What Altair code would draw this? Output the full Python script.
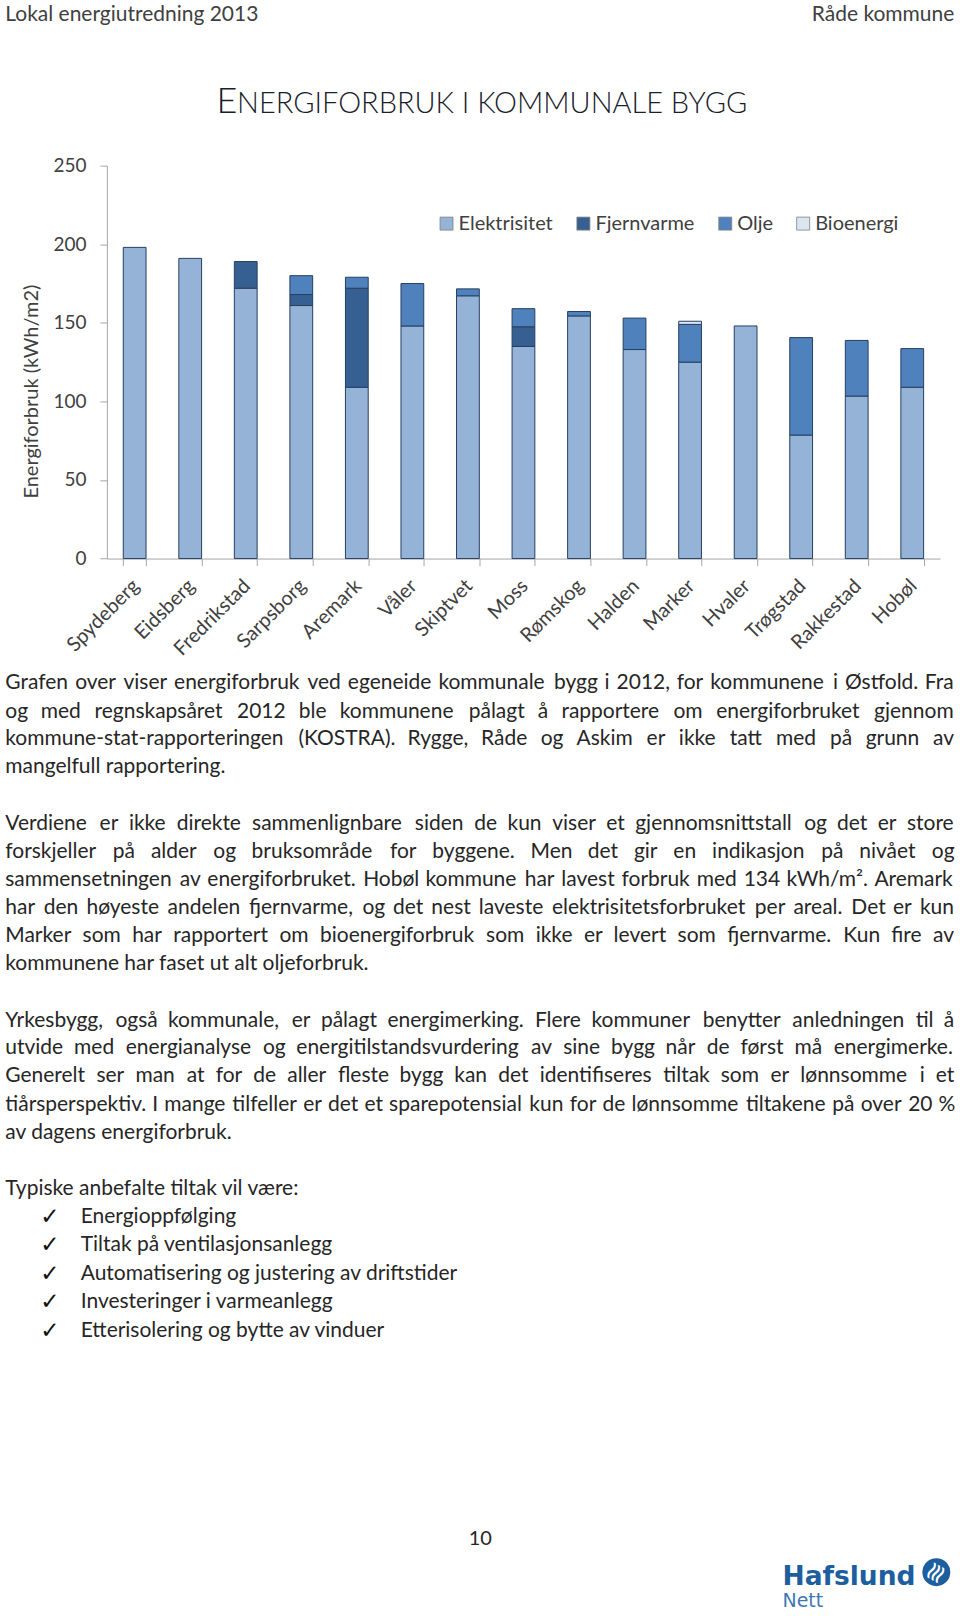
import altair as alt
import pandas as pd

# ---------------- data ----------------
kommuner = ["Spydeberg", "Eidsberg", "Fredrikstad", "Sarpsborg", "Aremark", "Våler", "Skiptvet",
            "Moss", "Rømskog", "Halden", "Marker", "Hvaler", "Trøgstad", "Rakkestad", "Hobøl"]
elektrisitet = [198, 191, 172, 161, 109, 148, 167.2, 135, 154.4, 133, 125, 148, 78.6, 103.4, 109]
fjernvarme = [0, 0, 17, 7, 63, 0, 0, 12.5, 0, 0, 0, 0, 0, 0, 0]
olje = [0, 0, 0, 12, 7, 27, 4.4, 11.5, 2.8, 20, 24, 0, 62, 35.4, 24.6]
bioenergi = [0, 0, 0, 0, 0, 0, 0, 0, 0, 0, 2, 0, 0, 0, 0]
kilder = ["Elektrisitet", "Fjernvarme", "Olje", "Bioenergi"]
farger = ["#95B3D7", "#376092", "#4F81BD", "#DCE6F2"]
y_ticks = [0, 50, 100, 150, 200, 250]

header_left = "Lokal energiutredning 2013"
header_right = "Råde kommune"
title_first = "E"
title_rest = "NERGIFORBRUK I KOMMUNALE BYGG"
y_title = "Energiforbruk (kWh/m2)"

# (text, justified)
body_lines = [
    ("Grafen over viser energiforbruk ved egeneide kommunale bygg i 2012, for kommunene i Østfold. Fra", True),
    ("og med regnskapsåret 2012 ble kommunene pålagt å rapportere om energiforbruket gjennom", True),
    ("kommune-stat-rapporteringen (KOSTRA). Rygge, Råde og Askim er ikke tatt med på grunn av", True),
    ("mangelfull rapportering.", False),
    ("Verdiene er ikke direkte sammenlignbare siden de kun viser et gjennomsnittstall og det er store", True),
    ("forskjeller på alder og bruksområde for byggene. Men det gir en indikasjon på nivået og", True),
    ("sammensetningen av energiforbruket. Hobøl kommune har lavest forbruk med 134 kWh/m². Aremark", True),
    ("har den høyeste andelen fjernvarme, og det nest laveste elektrisitetsforbruket per areal. Det er kun", True),
    ("Marker som har rapportert om bioenergiforbruk som ikke er levert som fjernvarme. Kun fire av", True),
    ("kommunene har faset ut alt oljeforbruk.", False),
    ("Yrkesbygg, også kommunale, er pålagt energimerking. Flere kommuner benytter anledningen til å", True),
    ("utvide med energianalyse og energitilstandsvurdering av sine bygg når de først må energimerke.", True),
    ("Generelt ser man at for de aller fleste bygg kan det identifiseres tiltak som er lønnsomme i et", True),
    ("tiårsperspektiv. I mange tilfeller er det et sparepotensial kun for de lønnsomme tiltakene på over 20 %", True),
    ("av dagens energiforbruk.", False),
    ("Typiske anbefalte tiltak vil være:", False),
]
body_y = [682.6, 711.5, 739.4, 767.2,
          823.9, 851.7, 879.6, 908.4, 936.3, 964.1,
          1020.8, 1048.7, 1076.5, 1105.4, 1133.2,
          1189.9]
bullets = ["Energioppfølging", "Tiltak på ventilasjonsanlegg", "Automatisering og justering av driftstider",
           "Investeringer i varmeanlegg", "Etterisolering og bytte av vinduer"]
bullet_y = [1217.8, 1245.6, 1274.5, 1302.3, 1331.2]
page_number = "10"

# ---------------- layout (page pixels) ----------------
PX0, PY0 = 106.7, 165.0          # plot-area origin on the page
PW, PH = 834, 393.3               # plot-area size
BODY_FS = 21
LEFT, RIGHT = 5.0, 955.0
MIN_GAP = 6.0

LATO = {
    'a': .506, 'b': .566, 'c': .466, 'd': .566, 'e': .527, 'f': .328, 'g': .505, 'h': .566, 'i': .244,
    'j': .244, 'k': .507, 'l': .244, 'm': .850, 'n': .566, 'o': .566, 'p': .556, 'q': .566, 'r': .375,
    's': .433, 't': .355, 'u': .566, 'v': .507, 'w': .778, 'x': .492, 'y': .507, 'z': .464, ' ': .193,
    '.': .22, ',': .22, ':': .22, '-': .33, '(': .3, ')': .3, '%': .75, 'ø': .566, 'å': .506, 'æ': .82,
    'A': .67, 'B': .63, 'C': .65, 'D': .72, 'E': .55, 'F': .53, 'G': .7, 'H': .73, 'I': .28, 'K': .64,
    'L': .5, 'M': .88, 'N': .73, 'O': .76, 'R': .61, 'S': .5, 'T': .56, 'V': .67, 'Y': .61, 'Ø': .76,
    'W': .98, '/': .37, '²': .40,
}


def tw(s, fs):
    return sum(LATO.get(c, 0.58) for c in s) * fs


word_rows = []
for (line, just), yy in zip(body_lines, body_y):
    words = line.split(" ")
    if just and len(words) > 1:
        fs = BODY_FS
        total = sum(tw(w, fs) for w in words)
        if total + MIN_GAP * (len(words) - 1) > RIGHT - LEFT:
            fs = BODY_FS * (RIGHT - LEFT - MIN_GAP * (len(words) - 1)) / total
            total = sum(tw(w, fs) for w in words)
        gap = (RIGHT - LEFT - total) / (len(words) - 1)
        x = LEFT
        for k, w in enumerate(words):
            if k == len(words) - 1:
                x = RIGHT - tw(w, fs)
            word_rows.append({"x": x - PX0, "y": yy - PY0, "t": w, "fs": fs})
            x += tw(w, fs) + gap
    else:
        word_rows.append({"x": LEFT - PX0, "y": yy - PY0, "t": line, "fs": BODY_FS})
for b, yy in zip(bullets, bullet_y):
    word_rows.append({"x": 80.5 - PX0, "y": yy - PY0, "t": b, "fs": BODY_FS})
words_df = pd.DataFrame(word_rows)

# ---------------- bar chart ----------------
rows = []
for i, k in enumerate(kommuner):
    for j, vals in enumerate([elektrisitet, fjernvarme, olje, bioenergi]):
        rows.append({"kommune": k, "kilde": kilder[j], "verdi": vals[i], "rekkefolge": j})
df = pd.DataFrame(rows)

bars = alt.Chart(df).transform_filter("datum.verdi > 0").mark_bar(
    stroke="#243F60", strokeWidth=1
).encode(
    x=alt.X("kommune:N", sort=kommuner,
            scale=alt.Scale(paddingInner=0.59, paddingOuter=0.295),
            axis=alt.Axis(title=None, labelAngle=-45, labelAlign="right", labelBaseline="middle",
                          labelPadding=17, labelOffset=1, tickSize=7, tickBand="extent",
                          labelFontSize=20, labelColor="#404040", labelFont="Lato",
                          domainColor="#A6A6A6", tickColor="#A6A6A6")),
    y=alt.Y("verdi:Q", stack="zero",
            scale=alt.Scale(domain=[0, 250], nice=False),
            axis=alt.Axis(values=y_ticks, title=y_title, grid=False, tickSize=7, labelPadding=14,
                          labelFontSize=19, labelColor="#404040", labelFont="Lato",
                          domainColor="#A6A6A6", tickColor="#A6A6A6",
                          titleFontSize=20, titleFont="Lato", titleFontWeight="normal",
                          titleColor="#404040", titleX=-75.7, titleY=225.7,
                          titleAlign="center", titleBaseline="middle")),
    color=alt.Color("kilde:N", scale=alt.Scale(domain=kilder, range=farger),
                    legend=alt.Legend(title=None, orient="none", direction="horizontal",
                                      legendX=330, legendY=48, symbolType="square",
                                      symbolSize=169, symbolStrokeColor="#7F7F7F",
                                      symbolStrokeWidth=0.8, labelFontSize=20, labelFont="Lato",
                                      labelColor="#404040", columnPadding=20, labelOffset=2,
                                      columns=4)),
    order=alt.Order("rekkefolge:Q", sort="ascending"),
)


def txt_layer(data, **mark):
    return alt.Chart(pd.DataFrame(data)).mark_text(**mark).encode(
        x=alt.X("x:Q", scale=None, axis=None),
        y=alt.Y("y:Q", scale=None, axis=None),
        text="t:N",
    )


header = txt_layer([{"x": 5 - PX0, "y": 14 - PY0, "t": header_left}],
                   align="left", baseline="middle", font="Lato", fontSize=21, color="#404040")
header_r = txt_layer([{"x": 955 - PX0, "y": 14 - PY0, "t": header_right}],
                     align="right", baseline="middle", font="Lato", fontSize=21, color="#404040")
title1 = txt_layer([{"x": 216.5 - PX0, "y": 112 - PY0, "t": title_first}],
                   align="left", baseline="alphabetic", font="Lato", fontWeight=300, fontSize=36,
                   color="#17202A")
title2 = txt_layer([{"x": 237 - PX0, "y": 112 - PY0, "t": title_rest}],
                   align="left", baseline="alphabetic", font="Lato", fontWeight=300, fontSize=29,
                   color="#17202A")
body = alt.Chart(words_df).mark_text(align="left", baseline="middle", font="Lato",
                                     color="#262626").encode(
    x=alt.X("x:Q", scale=None, axis=None),
    y=alt.Y("y:Q", scale=None, axis=None),
    size=alt.Size("fs:Q", scale=None, legend=None),
    text="t:N",
)
checks = txt_layer([{"x": 40 - PX0, "y": yy - PY0, "t": "✓"} for yy in bullet_y],
                   align="left", baseline="middle", font="DejaVu Sans", fontSize=23, color="#111111")
pagenum = txt_layer([{"x": 480.5 - PX0, "y": 1540 - PY0, "t": page_number}],
                    align="center", baseline="middle", font="Lato", fontSize=20, color="#262626")
logo1 = txt_layer([{"x": 783 - PX0, "y": 1586 - PY0, "t": "Hafslund"}],
                  align="left", baseline="alphabetic", font="DejaVu Sans", fontWeight="bold",
                  fontSize=26.5, color="#1D5E9E")
logo2 = txt_layer([{"x": 783 - PX0, "y": 1608 - PY0, "t": "Nett"}],
                  align="left", baseline="alphabetic", font="DejaVu Sans", fontSize=19,
                  color="#3E78B2")
logo_circle = alt.Chart(pd.DataFrame([{"x": 937 - PX0, "y": 1573 - PY0}])).mark_point(
    shape="circle", filled=True, size=780, color="#1D5E9E", opacity=1
).encode(x=alt.X("x:Q", scale=None, axis=None), y=alt.Y("y:Q", scale=None, axis=None))
logo_wave = txt_layer([{"x": 937 - PX0, "y": 1574 - PY0, "t": "≋"}],
                      align="center", baseline="middle", font="DejaVu Sans", fontSize=26,
                      angle=300, color="#FFFFFF")
anchor = alt.Chart(pd.DataFrame([{"x": -PX0, "x2": 960 - PX0, "y": -PY0, "y2": 1616 - PY0}])).mark_rect(
    opacity=0
).encode(
    x=alt.X("x:Q", scale=None, axis=None), x2="x2:Q",
    y=alt.Y("y:Q", scale=None, axis=None), y2="y2:Q",
)

chart = alt.layer(
    anchor, bars, header, header_r, title1, title2, body, checks, pagenum,
    logo1, logo2, logo_circle, logo_wave
).resolve_scale(
    x="independent", y="independent"
).properties(
    width=PW, height=PH, padding=0, background="white"
).configure_view(stroke=None)

chart.save("out.html", embed_options={"renderer": "svg", "actions": False})
